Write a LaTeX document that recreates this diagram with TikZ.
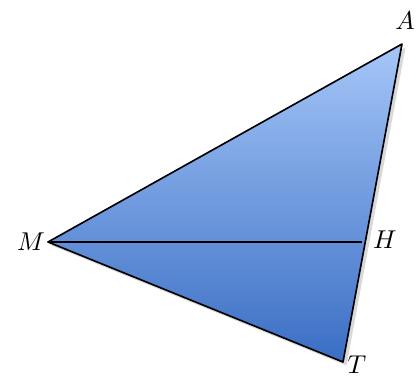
\documentclass[tikz,border=0pt]{standalone}
\usepackage{tikz}
\usetikzlibrary{shadows}

\definecolor{tamgiactop}{RGB}{165,198,248}
\definecolor{tamgiacmid}{RGB}{72,124,206}
\definecolor{tamgiacbot}{RGB}{58,110,196}

\begin{document}
\begin{tikzpicture}[x=0.03cm, y=-0.03cm, line width=1.4pt, every node/.style={scale=2.2}]
                \useasboundingbox (0,0) rectangle (417,381);

                % Các đỉnh
                \coordinate (A) at (402,44);
                \coordinate (M) at (48,242);
                \coordinate (T) at (343,362);
                \coordinate (H) at (362,242);

                % Tam giác tô màu
                \draw[line join=round, drop shadow={shadow xshift=3pt, shadow yshift=-3pt, opacity=0.3},
                      top color=tamgiactop, middle color=tamgiacmid, bottom color=tamgiacbot]
                      (A) -- (M) -- (T) -- cycle;

                % Đoạn MH
                \draw (M) -- (H);

                % Nhãn
                \node at (405,21) {$A$};
                \node at (31,242) {$M$};
                \node at (385,240) {$H$};
                \node at (357,365) {$T$};
            \end{tikzpicture}
\end{document}
